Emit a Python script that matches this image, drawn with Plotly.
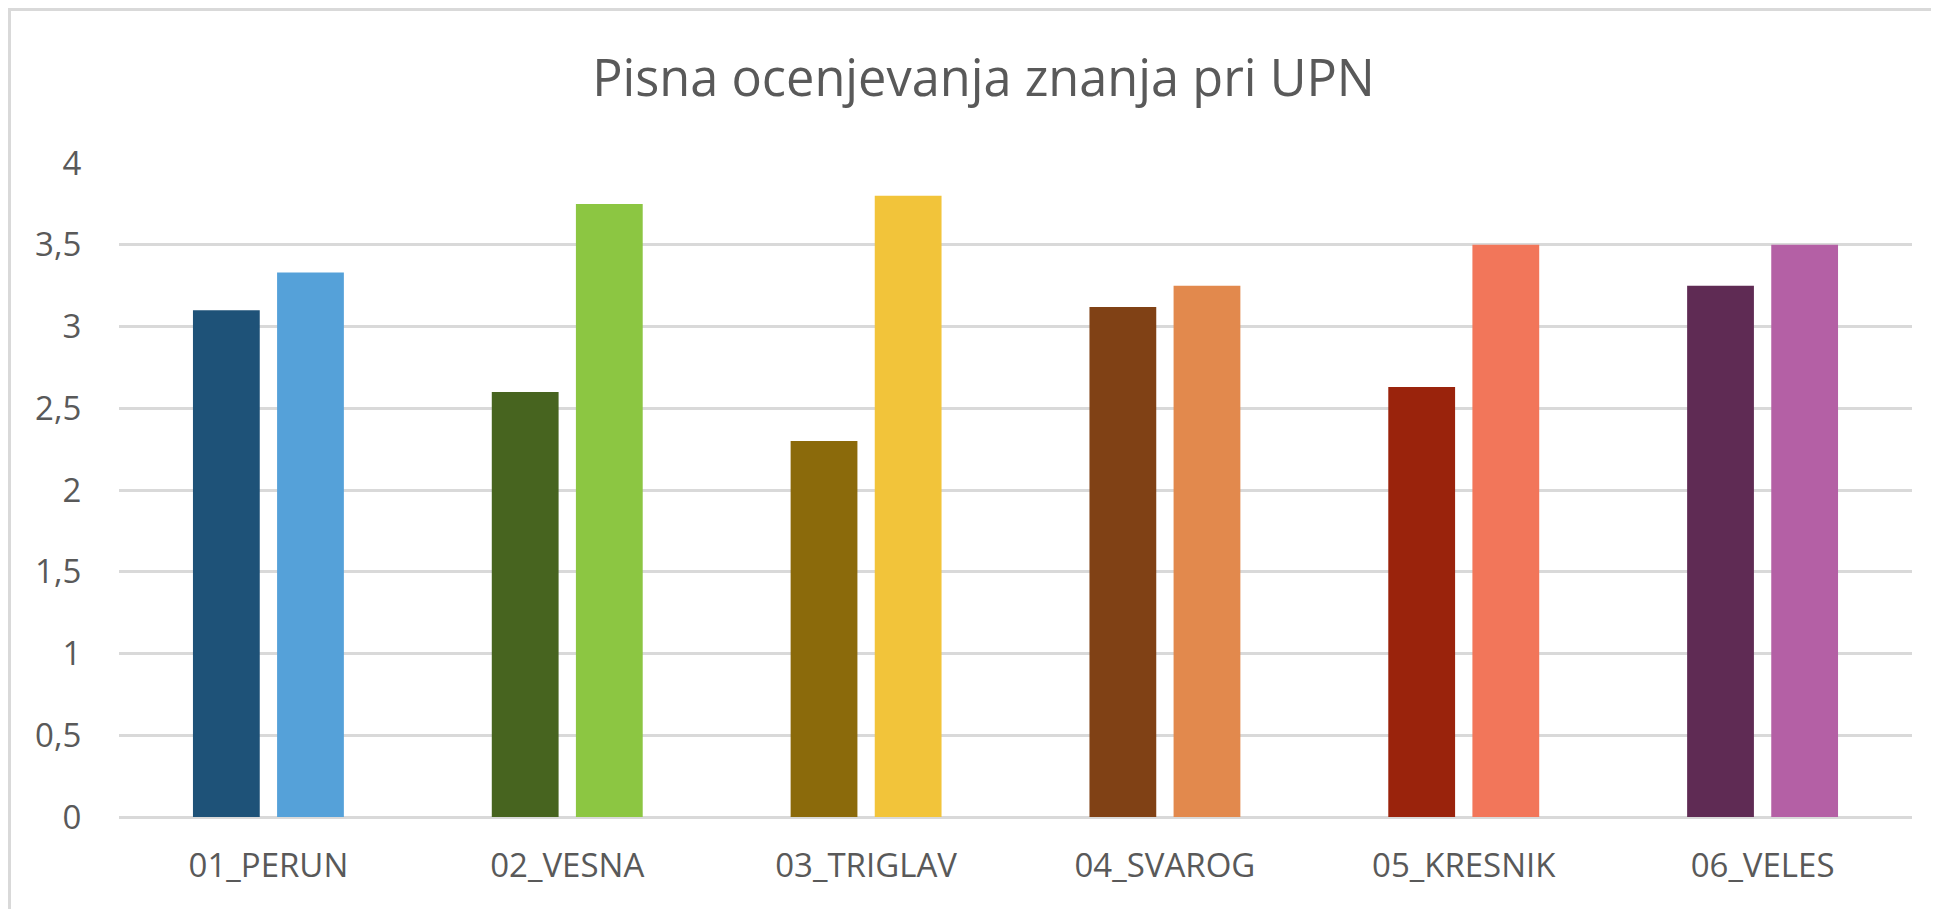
import plotly.graph_objects as go

categories = ["01_PERUN", "02_VESNA", "03_TRIGLAV", "04_SVAROG", "05_KRESNIK", "06_VELES"]
series_a = [3.10, 2.60, 2.30, 3.12, 2.63, 3.25]
series_b = [3.33, 3.75, 3.80, 3.25, 3.50, 3.50]
colors_a = ["#1E5278", "#47641F", "#8B6A0B", "#804115", "#9A230C", "#5F2B54"]
colors_b = ["#55A1D9", "#8CC642", "#F2C43A", "#E2894D", "#F2765A", "#B460A5"]
y_ticks = [0, 0.5, 1, 1.5, 2, 2.5, 3, 3.5, 4]
y_tick_labels = ["0", "0,5", "1", "1,5", "2", "2,5", "3", "3,5", "4"]

W, H = 1939, 909
FONT = "Open Sans"
TXT = "#595959"
L, R, T, B = 111, 35, 155, 100
PW, PH = W - L - R, H - T - B

fig = go.Figure()
fig.add_trace(go.Bar(x=categories, y=series_a, marker=dict(color=colors_a, line=dict(width=0)),
                     showlegend=False, hoverinfo="x+y"))
fig.add_trace(go.Bar(x=categories, y=series_b, marker=dict(color=colors_b, line=dict(width=0)),
                     showlegend=False, hoverinfo="x+y"))

fig.update_layout(
    width=W, height=H,
    margin=dict(l=L, r=R, t=T, b=B),
    paper_bgcolor="white", plot_bgcolor="white",
    barmode="group", bargap=0.437, bargroupgap=0.206,
    title=dict(text="Pisna ocenjevanja znanja pri UPN", x=975.5 / W, xref="container", xanchor="center",
               y=1 - 70 / H, yref="container", yanchor="middle",
               font=dict(family=FONT, size=50.5, color=TXT)),
    font=dict(family=FONT, color=TXT),
    shapes=[dict(type="rect", xref="paper", yref="paper",
                 x0=-(L - 1.5) / PW, x1=1 + 80 / PW,
                 y0=-(B + 80) / PH, y1=1 + (T - 1.5) / PH,
                 line=dict(color="#D9D9D9", width=3), layer="below")],
)
fig.update_xaxes(showgrid=False, showline=False, zeroline=False,
                 ticks="outside", ticklen=19, tickcolor="rgba(0,0,0,0)",
                 tickfont=dict(family=FONT, size=33, color=TXT))
fig.update_yaxes(range=[0, 4], tickvals=y_ticks, ticktext=y_tick_labels,
                 showgrid=True, gridcolor="#D9D9D9", gridwidth=3,
                 zeroline=True, zerolinecolor="#D9D9D9", zerolinewidth=3, showline=False,
                 ticks="outside", ticklen=30, tickcolor="rgba(0,0,0,0)",
                 tickfont=dict(family=FONT, size=33, color=TXT))

fig.write_html("out.html")
